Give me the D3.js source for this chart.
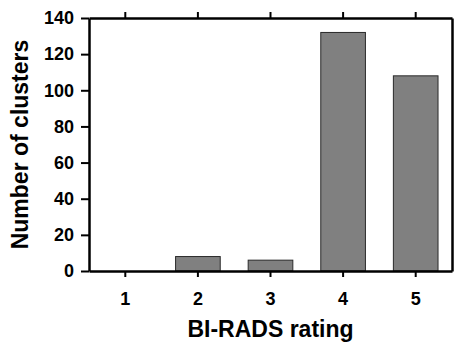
<!DOCTYPE html>
<head>
	<meta charset="utf-8">
	<script src="https://d3js.org/d3.v7.min.js"></script>
	<style>
		body { margin: 0; background: #fff; }
		text { font-family: "Liberation Sans", Arial, sans-serif; font-weight: bold; }
	</style>
</head>
<body>
<svg width="454" height="343"></svg>
<script>
	var ratings = ['1', '2', '3', '4', '5'];
	var clusters = [0, 8, 6, 132, 108];
	var yTicks = [0, 20, 40, 60, 80, 100, 120, 140];

	var margin = {top: 18, right: 2, bottom: 72, left: 89};
	var width = 454 - margin.left - margin.right,
		height = 343 - margin.top - margin.bottom;

	var svg = d3.select('svg');
	var g = svg.append('g').attr('transform', 'translate(' + margin.left + ',' + margin.top + ')');

	var x = d3.scaleBand().domain(ratings).range([0, width]).padding(0);
	var y = d3.scaleLinear().domain([0, 140]).range([height, 0]);
	var barW = x.bandwidth() * 0.615;

	// bars
	g.selectAll('rect.bar')
		.data(ratings)
		.enter()
		.append('rect')
		.attr('class', 'bar')
		.attr('x', function (d) { return x(d) + (x.bandwidth() - barW) / 2; })
		.attr('y', function (d, i) { return y(clusters[i]); })
		.attr('width', barW)
		.attr('height', function (d, i) { return height - y(clusters[i]); })
		.attr('fill', '#808080')
		.attr('stroke', '#2a2a2a')
		.attr('stroke-width', 1);

	/* --------- AXES --------- */

	g.append('g')
		.call(d3.axisLeft(y).tickValues(yTicks).tickSize(8).tickPadding(7).tickSizeOuter(0));

	g.append('g')
		.attr('transform', 'translate(0,' + height + ')')
		.call(d3.axisBottom(x).tickSize(6).tickPadding(15).tickSizeOuter(0));

	g.append('g')
		.call(d3.axisTop(x).tickSize(6).tickSizeOuter(0).tickFormat(''));

	g.append('g')
		.attr('transform', 'translate(' + width + ',0)')
		.call(d3.axisRight(y).tickValues([]).tickSizeOuter(0));

	g.selectAll('.domain').attr('stroke', '#000').attr('stroke-width', 2.5);
	g.selectAll('.tick line').attr('stroke', '#000').attr('stroke-width', 2);
	g.selectAll('.tick text').attr('fill', '#000').attr('font-size', 18)
		.attr('font-family', '"Liberation Sans", Arial, sans-serif').attr('font-weight', 'bold');

	// axis titles
	svg.append('text')
		.attr('x', margin.left + width / 2)
		.attr('y', 337)
		.attr('text-anchor', 'middle')
		.attr('font-size', 23)
		.text('BI-RADS rating');

	svg.append('text')
		.attr('transform', 'translate(28,' + (margin.top + height / 2) + ') rotate(-90)')
		.attr('text-anchor', 'middle')
		.attr('font-size', 23)
		.text('Number of clusters');
</script>
</body>
